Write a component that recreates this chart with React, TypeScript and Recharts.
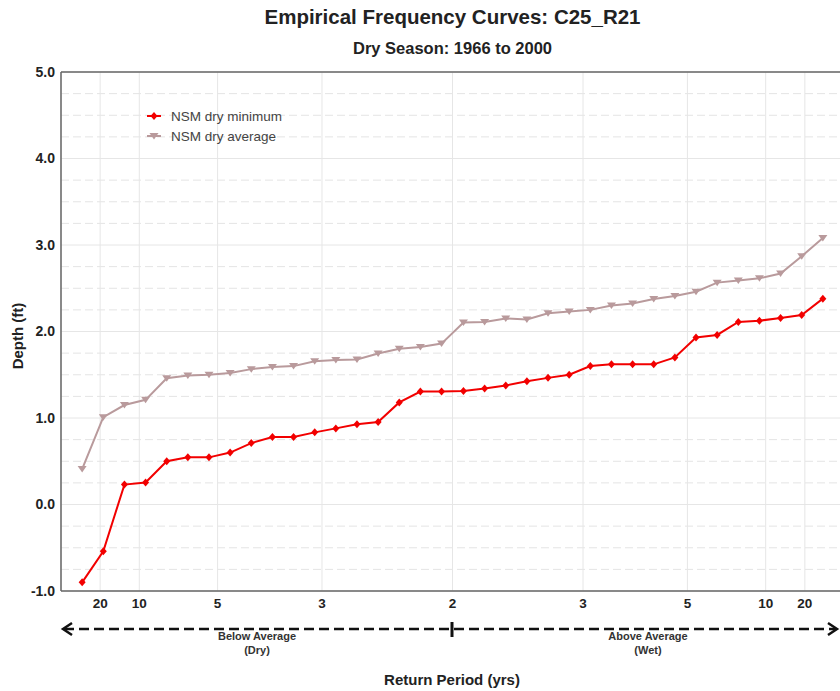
import React from "react";
import { LineChart, Line, XAxis, YAxis, CartesianGrid, ReferenceLine } from "recharts";

const FONT = '"Liberation Sans", Arial, sans-serif';

// plotting position (non-exceedance probability) of each ranked season
const PLOT_POS = [
  0.027, 0.054, 0.081, 0.108, 0.135, 0.162, 0.189, 0.216, 0.243, 0.27, 0.297, 0.324,
  0.351, 0.378, 0.405, 0.432, 0.459, 0.486, 0.514, 0.541, 0.568, 0.595, 0.622, 0.649,
  0.676, 0.703, 0.73, 0.757, 0.784, 0.811, 0.838, 0.865, 0.892, 0.919, 0.946, 0.973,
];

const NSM_DRY_MIN = [
  -0.9, -0.54, 0.23, 0.255, 0.5, 0.545, 0.545, 0.6, 0.71, 0.78, 0.78, 0.834,
  0.88, 0.927, 0.954, 1.18, 1.305, 1.305, 1.313, 1.34, 1.375, 1.425, 1.464, 1.5,
  1.6, 1.62, 1.62, 1.62, 1.7, 1.93, 1.96, 2.11, 2.125, 2.155, 2.19, 2.38,
];

const NSM_DRY_AVG = [
  0.41, 1.01, 1.15, 1.21, 1.46, 1.49, 1.5, 1.52, 1.565, 1.59, 1.6, 1.657,
  1.67, 1.676, 1.746, 1.8, 1.82, 1.86, 2.105, 2.11, 2.15, 2.14, 2.21, 2.23,
  2.25, 2.3, 2.325, 2.375, 2.41, 2.46, 2.565, 2.59, 2.615, 2.67, 2.87, 3.08,
];

const X_TICKS = [0.05, 0.1, 0.2, 0.3333, 0.5, 0.6667, 0.8, 0.9, 0.95];
const X_TICK_LABELS = ["20", "10", "5", "3", "2", "3", "5", "10", "20"];
const Y_TICKS = [-1, 0, 1, 2, 3, 4, 5];
const Y_MINOR = [
  -0.75, -0.5, -0.25, 0.25, 0.5, 0.75, 1.25, 1.5, 1.75, 2.25, 2.5, 2.75,
  3.25, 3.5, 3.75, 4.25, 4.5, 4.75,
];

const RED = "#f20000";
const ROSE = "#b99a9c";

const data = PLOT_POS.map((p, i) => ({ p, min: NSM_DRY_MIN[i], avg: NSM_DRY_AVG[i] }));

const Diamond = (props: any) => {
  const { cx, cy, index } = props;
  if (cx == null || cy == null) return <g key={`d${index}`} />;
  return (
    <polygon
      key={`d${index}`}
      points={`${cx},${cy - 4} ${cx + 3.5},${cy} ${cx},${cy + 4} ${cx - 3.5},${cy}`}
      fill={RED}
    />
  );
};

const TriDown = (props: any) => {
  const { cx, cy, index } = props;
  if (cx == null || cy == null) return <g key={`t${index}`} />;
  return (
    <polygon
      key={`t${index}`}
      points={`${cx - 4.5},${cy - 3} ${cx + 4.5},${cy - 3} ${cx},${cy + 3.5}`}
      fill={ROSE}
    />
  );
};

const minorLines = ({ yAxis, offset }: any) =>
  Y_MINOR.map((v) =>
    yAxis && typeof yAxis.scale === "function"
      ? yAxis.scale(v)
      : offset.top + ((5 - v) / 6) * offset.height
  );

const LegendRow = ({ top, kind, label }: { top: number; kind: "min" | "avg"; label: string }) => (
  <div style={{ position: "absolute", left: 145, top: top - 9, height: 18, display: "flex", alignItems: "center" }}>
    <svg width={20} height={18}>
      <line x1={2} y1={9} x2={16} y2={9} stroke={kind === "min" ? RED : ROSE} strokeWidth={2} />
      {kind === "min" ? (
        <polygon points="9,5 12.5,9 9,13 5.5,9" fill={RED} />
      ) : (
        <polygon points="4.5,6 13.5,6 9,12.5" fill={ROSE} />
      )}
    </svg>
    <span style={{ marginLeft: 6, fontFamily: FONT, fontSize: 13.5, color: "#444" }}>{label}</span>
  </div>
);

export default function App() {
  return (
    <div style={{ position: "absolute", left: 0, top: 0, width: 840, height: 691, overflow: "hidden", background: "#fff" }}>
      <div style={{ position: "absolute", left: 0, top: 7, width: 905, textAlign: "center", fontFamily: FONT, fontWeight: 700, fontSize: 20.5, lineHeight: "20px", color: "#222" }}>
        Empirical Frequency Curves: C25_R21
      </div>
      <div style={{ position: "absolute", left: 0, top: 39, width: 905, textAlign: "center", fontFamily: FONT, fontWeight: 700, fontSize: 16.5, lineHeight: "18px", color: "#222" }}>
        Dry Season: 1966 to 2000
      </div>
      <div style={{ position: "absolute", left: 17, top: 336, transform: "translate(-50%, -50%) rotate(-90deg)", whiteSpace: "nowrap", fontFamily: FONT, fontWeight: 700, fontSize: 15, color: "#222" }}>
        Depth (ft)
      </div>

      <div style={{ position: "absolute", left: 0, top: 0 }}>
        <LineChart width={870} height={691} data={data} margin={{ top: 72, right: 26, bottom: 70, left: 0 }}>
          <CartesianGrid vertical={false} horizontalCoordinatesGenerator={minorLines} stroke="#e4e4e4" strokeDasharray="8 4" />
          <CartesianGrid stroke="#e6e6e6" />
          <XAxis
            type="number"
            dataKey="p"
            domain={[0, 1]}
            ticks={X_TICKS}
            tickFormatter={(v: number) => X_TICK_LABELS[X_TICKS.indexOf(v)] ?? ""}
            interval={0}
            height={30}
            tickSize={0}
            tickMargin={7}
            axisLine={{ stroke: "#666", strokeWidth: 1.5 }}
            tick={{ fontSize: 13.5, fontWeight: 700, fill: "#222", fontFamily: FONT }}
          />
          <YAxis
            type="number"
            domain={[-1, 5]}
            ticks={Y_TICKS}
            tickFormatter={(v: number) => v.toFixed(1)}
            width={61}
            tickSize={0}
            tickMargin={6}
            axisLine={{ stroke: "#666", strokeWidth: 1.5 }}
            tick={{ fontSize: 14, fontWeight: 700, fill: "#222", fontFamily: FONT }}
          />
          <ReferenceLine y={5} stroke="#666" strokeWidth={1.5} />
          <Line dataKey="avg" stroke={ROSE} strokeWidth={2} dot={TriDown} activeDot={false} isAnimationActive={false} />
          <Line dataKey="min" stroke={RED} strokeWidth={2} dot={Diamond} activeDot={false} isAnimationActive={false} />
        </LineChart>
      </div>

      <LegendRow top={116} kind="min" label="NSM dry minimum" />
      <LegendRow top={136} kind="avg" label="NSM dry average" />

      <svg width={840} height={691} style={{ position: "absolute", left: 0, top: 0, pointerEvents: "none" }}>
        <line x1={64} y1={629} x2={836} y2={629} stroke="#111" strokeWidth={2.5} strokeDasharray="10 5" />
        <polyline points="72,623 63,629 72,635" fill="none" stroke="#111" strokeWidth={2.5} />
        <polyline points="828,623 837,629 828,635" fill="none" stroke="#111" strokeWidth={2.5} />
        <line x1={452} y1={622} x2={452} y2={637} stroke="#111" strokeWidth={3} />
        <g fontFamily={FONT} fontWeight={700} fontSize={11} fill="#333" textAnchor="middle">
          <text x={257} y={640}>Below Average</text>
          <text x={257} y={653.5}>(Dry)</text>
          <text x={648} y={640}>Above Average</text>
          <text x={648} y={653.5}>(Wet)</text>
        </g>
        <text x={452} y={685} fontFamily={FONT} fontWeight={700} fontSize={15} fill="#222" textAnchor="middle">
          Return Period (yrs)
        </text>
      </svg>
    </div>
  );
}
